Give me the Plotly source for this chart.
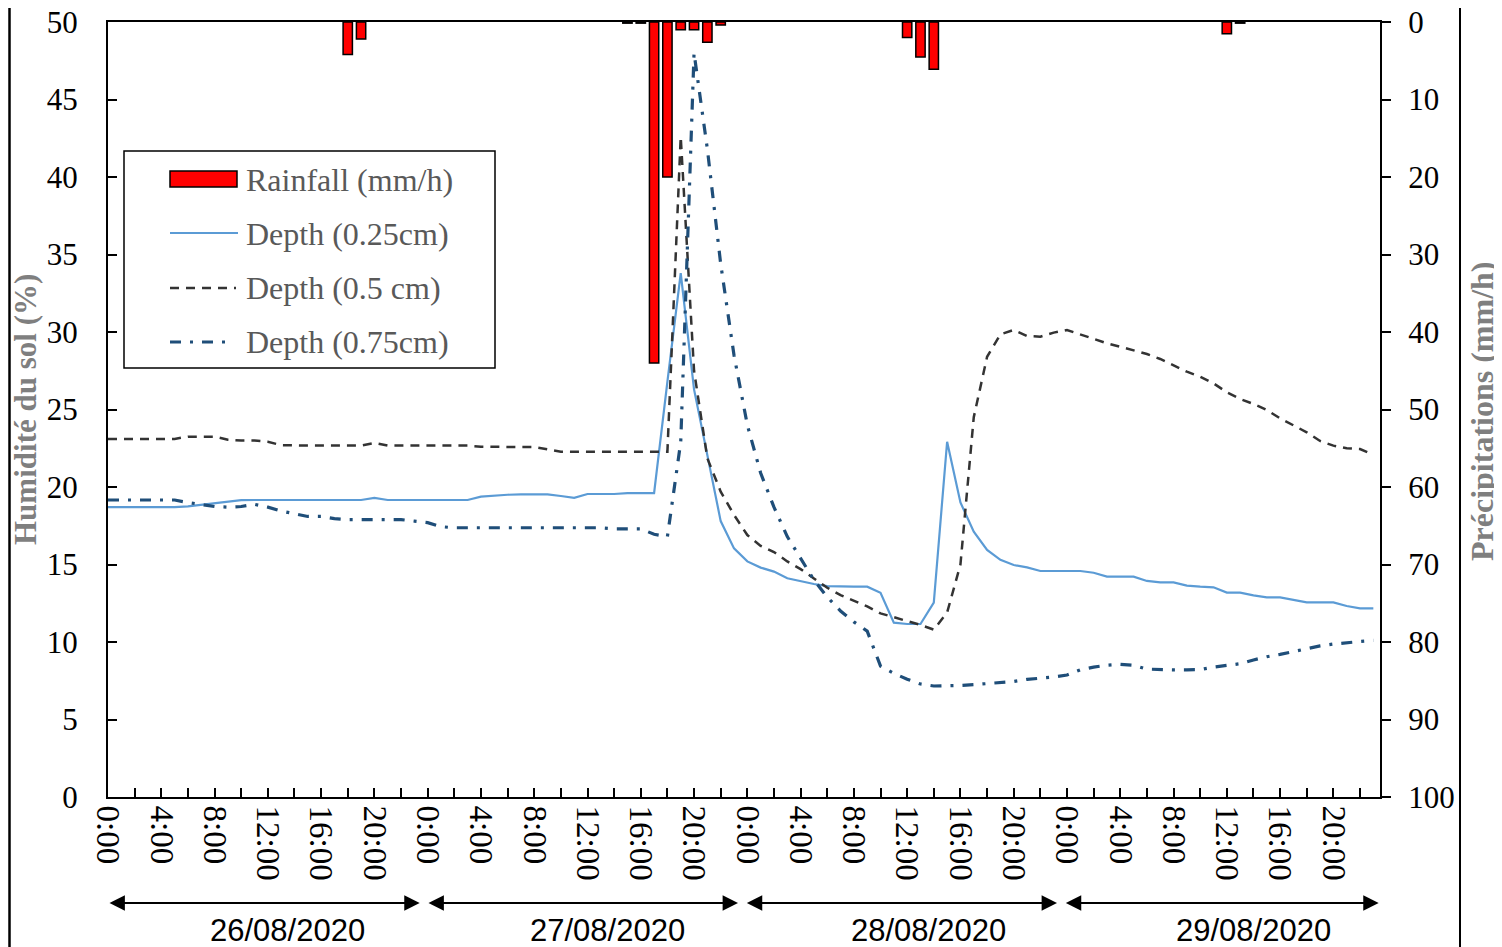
import plotly.graph_objects as go

# ---------------- data ----------------
hours = list(range(96))

depth_025 = [18.7, 18.7, 18.7, 18.7, 18.7, 18.7, 18.75, 18.86, 18.95, 19.05,
             19.15, 19.16, 19.16, 19.16, 19.16, 19.16, 19.16, 19.16, 19.16, 19.16,
             19.3, 19.16, 19.16, 19.16, 19.16, 19.16, 19.16, 19.16, 19.38, 19.45,
             19.5, 19.52, 19.52, 19.52, 19.42, 19.3, 19.55, 19.55, 19.55, 19.6,
             19.6, 19.6, 26.8, 33.8, 26.3, 22.0, 17.8, 16.04, 15.2, 14.8,
             14.54, 14.11, 13.9, 13.74, 13.6, 13.57, 13.57, 13.57, 13.18, 11.25,
             11.16, 11.16, 12.54, 22.92, 19.0, 17.12, 15.94, 15.3, 14.97, 14.81,
             14.58, 14.58, 14.58, 14.58, 14.47, 14.22, 14.22, 14.22, 13.94, 13.85,
             13.85, 13.64, 13.57, 13.53, 13.19, 13.19, 13.01, 12.88, 12.88, 12.71,
             12.56, 12.56, 12.56, 12.32, 12.17, 12.17]

depth_05 = [23.1, 23.1, 23.1, 23.1, 23.1, 23.1, 23.25, 23.25, 23.25, 23.05,
            23.0, 23.0, 22.92, 22.7, 22.67, 22.67, 22.67, 22.67, 22.67, 22.67,
            22.84, 22.67, 22.67, 22.67, 22.67, 22.67, 22.67, 22.67, 22.6, 22.58,
            22.58, 22.58, 22.58, 22.45, 22.28, 22.28, 22.28, 22.28, 22.28, 22.28,
            22.28, 22.28, 22.28, 42.6, 27.5, 21.85, 19.7, 18.2, 16.9, 16.2,
            15.8, 15.2, 14.7, 14.1, 13.5, 13.03, 12.64, 12.3, 11.85, 11.6,
            11.3, 11.1, 10.8, 11.9, 15.0, 24.5, 28.4, 29.85, 30.13, 29.74,
            29.7, 29.96, 30.13, 29.85, 29.55, 29.27, 29.05, 28.84, 28.58, 28.26,
            27.83, 27.44, 27.12, 26.69, 26.11, 25.68, 25.36, 24.97, 24.43, 24.0,
            23.53, 22.97, 22.67, 22.5, 22.45, 22.07]

depth_075 = [19.16, 19.16, 19.16, 19.16, 19.16, 19.16, 19.0, 18.85, 18.74, 18.7,
             18.74, 18.88, 18.7, 18.45, 18.3, 18.1, 18.1, 17.96, 17.9, 17.9,
             17.9, 17.9, 17.9, 17.8, 17.7, 17.44, 17.37, 17.37, 17.37, 17.37,
             17.37, 17.37, 17.37, 17.37, 17.37, 17.37, 17.37, 17.37, 17.3, 17.3,
             17.3, 16.95, 16.8, 22.9, 48.0, 41.8, 34.4, 28.5, 24.0, 20.9,
             18.7, 16.8, 15.4, 14.0, 12.9, 12.0, 11.3, 10.7, 8.45, 7.98,
             7.6, 7.29, 7.16, 7.16, 7.2, 7.25, 7.3, 7.37, 7.45, 7.59,
             7.66, 7.74, 7.87, 8.2, 8.38, 8.5, 8.56, 8.5, 8.25, 8.2,
             8.2, 8.2, 8.22, 8.38, 8.5, 8.6, 8.84, 9.05, 9.2, 9.38,
             9.6, 9.75, 9.87, 9.97, 10.03, 10.1]

rain_hours = [18, 19, 39, 40, 41, 42, 43, 44, 45, 46, 60, 61, 62, 84, 85]
rain_mm = [4.2, 2.2, 0.15, 0.15, 44.0, 20.0, 1.0, 1.0, 2.6, 0.4, 2.0, 4.5, 6.1, 1.5, 0.15]

tick_hours = list(range(0, 96, 4))
tick_labels = ["%d:00" % (h % 24) for h in tick_hours]

day_labels = ["26/08/2020", "27/08/2020", "28/08/2020", "29/08/2020"]
day_starts = [0, 24, 48, 72]

series_names = ["Rainfall (mm/h)", "Depth (0.25cm)", "Depth (0.5 cm)", "Depth (0.75cm)"]

# ---------------- layout helpers ----------------
# The page has an 8 px body margin, so the figure is drawn 8 px right/down.
W, H = 1502, 947
PAGE_OFF = 8
PLOT_L, PLOT_R, PLOT_T, PLOT_B = 108, 1380, 22, 797   # plot area in page pixels
L = PLOT_L - PAGE_OFF
T = PLOT_T - PAGE_OFF
R = W - (PLOT_R - PAGE_OFF)
B = H - (PLOT_B - PAGE_OFF)
PW, PH = PLOT_R - PLOT_L, PLOT_B - PLOT_T
XMAX = 95.5


def px_x(p):
    return (p - PLOT_L) / PW


def px_y(p):
    return (PLOT_B - p) / PH


SERIF = "Liberation Serif, Times New Roman, serif"
SANS = "Liberation Sans, Arial, sans-serif"

C_RAIN = "#FF0000"
C_025 = "#5B9BD5"
C_05 = "#333333"
C_075 = "#1F4E79"
DASH_05 = "9px,7px"
DASH_075 = "11px,9px,3px,9px"

fig = go.Figure()

fig.add_trace(go.Bar(
    x=rain_hours, y=rain_mm, yaxis="y2", name=series_names[0], showlegend=False,
    width=0.7, marker=dict(color=C_RAIN, line=dict(color="black", width=1.5)),
))
fig.add_trace(go.Scatter(
    x=hours, y=depth_025, mode="lines", name=series_names[1], showlegend=False,
    line=dict(color=C_025, width=2.2),
))
fig.add_trace(go.Scatter(
    x=hours, y=depth_05, mode="lines", name=series_names[2], showlegend=False,
    line=dict(color=C_05, width=2.5, dash=DASH_05),
))
fig.add_trace(go.Scatter(
    x=hours, y=depth_075, mode="lines", name=series_names[3], showlegend=False,
    line=dict(color=C_075, width=3.2, dash=DASH_075),
))

annotations = []
shapes = []

# ---- day arrows and labels below the axis ----
arrow_spans = [(0.0, 23.4), (23.95, 47.3), (47.85, 71.25), (71.8, 95.4)]
label_centres = [13.5, 37.5, 61.6, 86.0]
y_arrow = px_y(903)
for lab, (h0, h1), hc in zip(day_labels, arrow_spans, label_centres):
    x0p, x1p = h0 / XMAX, h1 / XMAX
    annotations.append(dict(
        x=x1p, y=y_arrow, xref="paper", yref="paper",
        ax=-(x1p - x0p) * PW, ay=0, axref="pixel", ayref="pixel",
        text="", showarrow=True, arrowhead=2, arrowsize=1.4, arrowwidth=2.2,
        arrowcolor="black", arrowside="end+start", standoff=0, startstandoff=0,
    ))
    annotations.append(dict(
        x=hc / XMAX, y=px_y(930), xref="paper", yref="paper",
        text=lab, showarrow=False, xanchor="center", yanchor="middle",
        font=dict(family=SANS, size=31, color="black"),
    ))

# ---- axis titles ----
annotations.append(dict(
    x=px_x(25), y=px_y(410), xref="paper", yref="paper", textangle=-90,
    text="<b>Humidité du sol (%)</b>", showarrow=False, xanchor="center", yanchor="middle",
    font=dict(family=SERIF, size=31, color="#7F7F7F"),
))
annotations.append(dict(
    x=px_x(1482), y=px_y(411), xref="paper", yref="paper", textangle=-90,
    text="<b>Précipitations (mm/h)</b>", showarrow=False, xanchor="center", yanchor="middle",
    font=dict(family=SERIF, size=32, color="#7F7F7F"),
))

# ---- legend (drawn) ----
shapes.append(dict(type="rect", xref="paper", yref="paper",
                   x0=px_x(124), x1=px_x(495), y0=px_y(368), y1=px_y(151),
                   line=dict(color="black", width=1.5), fillcolor="white", layer="above"))
shapes.append(dict(type="rect", xref="paper", yref="paper",
                   x0=px_x(170), x1=px_x(237), y0=px_y(187), y1=px_y(171),
                   line=dict(color="black", width=1.5), fillcolor=C_RAIN, layer="above"))
shapes.append(dict(type="line", xref="paper", yref="paper",
                   x0=px_x(170), x1=px_x(238), y0=px_y(233), y1=px_y(233),
                   line=dict(color=C_025, width=2.2), layer="above"))
shapes.append(dict(type="line", xref="paper", yref="paper",
                   x0=px_x(170), x1=px_x(236), y0=px_y(288), y1=px_y(288),
                   line=dict(color=C_05, width=2.5, dash=DASH_05), layer="above"))
shapes.append(dict(type="line", xref="paper", yref="paper",
                   x0=px_x(170), x1=px_x(232), y0=px_y(342), y1=px_y(342),
                   line=dict(color=C_075, width=3.2, dash=DASH_075), layer="above"))
for name, yc in zip(series_names, [180, 234, 288, 342]):
    annotations.append(dict(
        x=px_x(244), y=px_y(yc), xref="paper", yref="paper",
        text=name, showarrow=False, xanchor="left", yanchor="middle",
        font=dict(family=SERIF, size=32, color="#595959"),
    ))

# ---- outer frame edges of the chart area ----
shapes.append(dict(type="line", xref="paper", yref="paper", x0=px_x(9.5), x1=px_x(9.5),
                   y0=-0.25, y1=1.1, line=dict(color="black", width=2.5)))
shapes.append(dict(type="line", xref="paper", yref="paper", x0=px_x(1460), x1=px_x(1460),
                   y0=-0.25, y1=1.1, line=dict(color="black", width=2)))

fig.update_layout(
    width=W, height=H,
    margin=dict(l=L, r=R, t=T, b=B, autoexpand=False),
    paper_bgcolor="white", plot_bgcolor="white",
    barmode="overlay",
    showlegend=False,
    xaxis=dict(
        range=[0, XMAX], tickmode="array", tickvals=tick_hours, ticktext=tick_labels,
        tickangle=90, ticks="inside", ticklen=9, tickcolor="black", tickwidth=1.5,
        minor=dict(dtick=2, tick0=0, ticks="inside", ticklen=9, tickcolor="black", tickwidth=1.5),
        showline=True, linecolor="black", linewidth=2, mirror=True,
        showgrid=False, zeroline=False, automargin=False, ticklabeloverflow="allow",
        tickfont=dict(family=SERIF, size=33, color="black"),
    ),
    yaxis=dict(
        range=[0, 50], dtick=5, ticks="inside", ticklen=9, tickcolor="black", tickwidth=1.5,
        showline=True, linecolor="black", linewidth=2,
        showgrid=False, zeroline=False, ticklabelstandoff=22, automargin=False,
        ticklabeloverflow="allow",
        tickfont=dict(family=SERIF, size=31, color="black"),
    ),
    yaxis2=dict(
        range=[100, 0], dtick=10, overlaying="y", side="right",
        ticks="outside", ticklen=9, tickcolor="black", tickwidth=1.5,
        showline=True, linecolor="black", linewidth=2,
        showgrid=False, zeroline=False, ticklabelstandoff=11, automargin=False,
        ticklabeloverflow="allow",
        tickfont=dict(family=SERIF, size=31, color="black"),
    ),
    annotations=annotations,
    shapes=shapes,
)

fig.write_html("out.html")
